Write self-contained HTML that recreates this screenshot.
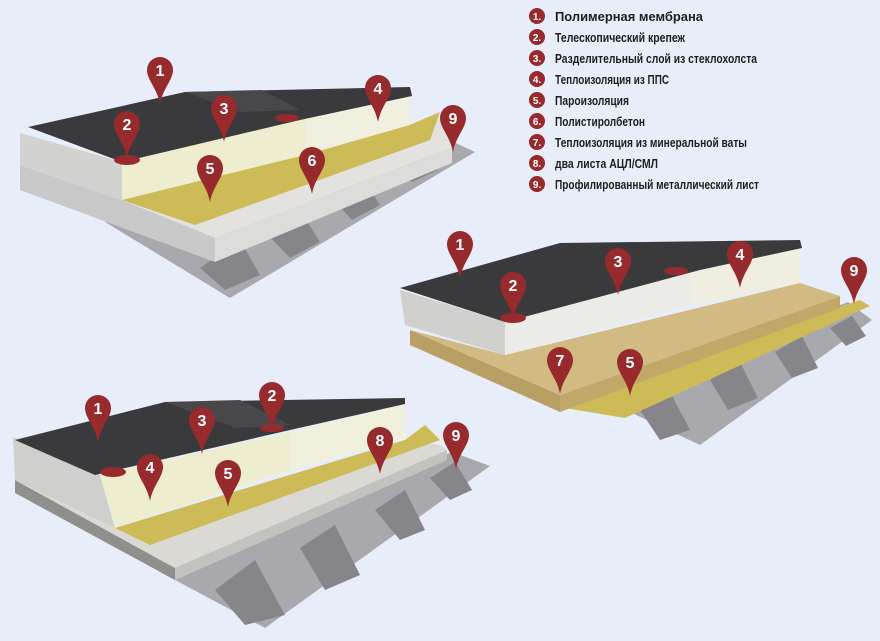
<!DOCTYPE html>
<html><head><meta charset="utf-8"><style>
html,body{margin:0;padding:0;background:#e8eef9;}
svg{display:block}
.lg{font-family:"Liberation Sans",sans-serif;font-weight:bold;font-size:13px;fill:#1e1e1e}
.pn{font-family:"Liberation Sans",sans-serif;font-weight:bold;font-size:16px;fill:#fff;text-anchor:middle}
.ln{font-family:"Liberation Sans",sans-serif;font-weight:bold;font-size:10px;fill:#fff;text-anchor:middle}
</style></head><body>
<svg width="880" height="641" viewBox="0 0 880 641" xmlns="http://www.w3.org/2000/svg">
<defs>
<path id="pin" d="M-13,0 A13,13 0 1 1 13,0 C13,10 3,18 0,34 C-3,18 -13,10 -13,0Z" fill="#962a2c"/>
</defs>
<rect width="880" height="641" fill="#e8eef9"/>

<!-- legend -->
<g>
<g fill="#962a2c">
<circle cx="537" cy="16" r="8"/><circle cx="537" cy="37" r="8"/><circle cx="537" cy="58" r="8"/>
<circle cx="537" cy="79" r="8"/><circle cx="537" cy="100" r="8"/><circle cx="537" cy="121" r="8"/>
<circle cx="537" cy="142" r="8"/><circle cx="537" cy="163" r="8"/><circle cx="537" cy="184" r="8"/></g>
<text class="ln" x="537" y="20">1.</text><text class="ln" x="537" y="41">2.</text><text class="ln" x="537" y="62">3.</text>
<text class="ln" x="537" y="83">4.</text><text class="ln" x="537" y="104">5.</text><text class="ln" x="537" y="125">6.</text>
<text class="ln" x="537" y="146">7.</text><text class="ln" x="537" y="167">8.</text><text class="ln" x="537" y="188">9.</text>
<text class="lg" x="555" y="21" textLength="148" lengthAdjust="spacingAndGlyphs">Полимерная мембрана</text>
<text class="lg" x="555" y="42" textLength="130" lengthAdjust="spacingAndGlyphs">Телескопический крепеж</text>
<text class="lg" x="555" y="63" textLength="202" lengthAdjust="spacingAndGlyphs">Разделительный слой из стеклохолста</text>
<text class="lg" x="555" y="84" textLength="114" lengthAdjust="spacingAndGlyphs">Теплоизоляция из ППС</text>
<text class="lg" x="555" y="105" textLength="74" lengthAdjust="spacingAndGlyphs">Пароизоляция</text>
<text class="lg" x="555" y="126" textLength="90" lengthAdjust="spacingAndGlyphs">Полистиролбетон</text>
<text class="lg" x="555" y="147" textLength="192" lengthAdjust="spacingAndGlyphs">Теплоизоляция из минеральной ваты</text>
<text class="lg" x="555" y="168" textLength="103" lengthAdjust="spacingAndGlyphs">два листа АЦЛ/СМЛ</text>
<text class="lg" x="555" y="189" textLength="204" lengthAdjust="spacingAndGlyphs">Профилированный металлический лист</text>
</g>

<!-- DIAGRAM 1 -->
<g>
<polygon points="105,222 230,298 475,152 445,138" fill="#a9a9ad"/>
<g fill="#85858a">
<polygon points="200,268 240,240 260,275 225,290"/><polygon points="265,232 300,210 320,242 290,258"/>
<polygon points="330,196 362,177 380,205 352,220"/><polygon points="392,160 420,145 438,170 412,182"/>
</g>
<polygon points="20,165 122,200 215,238 215,262 20,190" fill="#c9c9c9"/>
<polygon points="215,238 452,148 452,163 215,262" fill="#dcdcda"/>
<polygon points="122,200 412,124 445,118 452,148 215,238" fill="#e4e2df"/>
<polygon points="122,200 412,124 440,112 430,140 195,225" fill="#cdbb58"/>
<polygon points="20,133 122,162 122,200 20,165" fill="#d2d2d0"/>
<polygon points="122,162 305,118 305,155 122,200" fill="#efedcf"/>
<polygon points="305,118 410,94 410,125 305,155" fill="#f1f0e0"/>
<polygon points="28,127 185,92 410,87 412,96 300,120 122,162" fill="#3a3a3c"/>
<polygon points="185,92 262,90 300,110 240,112" fill="#48484a"/>
<ellipse cx="127" cy="160" rx="13" ry="5" fill="#962a2c"/><ellipse cx="287" cy="118" rx="12" ry="4" fill="#962a2c"/>
</g>

<!-- DIAGRAM 2 -->
<g>
<polygon points="600,398 700,445 872,320 848,302" fill="#a9a9ad"/>
<g fill="#85858a">
<polygon points="640,410 670,392 690,430 660,440"/><polygon points="710,380 740,362 758,398 728,410"/>
<polygon points="775,352 802,336 818,368 792,378"/><polygon points="830,328 852,316 866,336 846,346"/>
</g>
<polygon points="565,408 845,305 860,300 870,306 625,418" fill="#cdbb58"/>
<polygon points="410,330 560,395 560,412 410,345" fill="#b8a064"/>
<polygon points="560,395 840,296 840,308 560,412" fill="#c2a868"/>
<polygon points="505,355 800,283 840,296 560,395 410,330" fill="#d2bb82"/>
<polygon points="400,290 505,322 505,355 405,325" fill="#d0d0ce"/>
<polygon points="505,322 690,272 690,305 505,355" fill="#ebebe8"/>
<polygon points="690,272 800,248 800,283 690,305" fill="#f0eee0"/>
<polygon points="400,288 560,243 800,240 802,248 700,270 505,322" fill="#3a3a3c"/>
<ellipse cx="513" cy="318" rx="13" ry="5" fill="#962a2c"/><ellipse cx="676" cy="271" rx="12" ry="4" fill="#962a2c"/>
</g>

<!-- DIAGRAM 3 -->
<g>
<polygon points="160,572 265,628 490,466 452,452" fill="#a9a9ad"/>
<g fill="#85858a">
<polygon points="215,590 255,560 285,615 245,625"/><polygon points="300,548 335,525 360,575 325,590"/>
<polygon points="375,510 405,490 425,530 400,540"/><polygon points="430,478 455,462 472,490 450,500"/>
</g>
<polygon points="15,480 175,568 175,580 15,493" fill="#8f8f8c"/>
<polygon points="175,568 447,450 447,460 175,580" fill="#c2c2be"/>
<polygon points="115,528 405,440 440,445 447,450 175,568 15,480" fill="#dad9d3"/>
<polygon points="115,528 405,440 425,425 440,440 150,545" fill="#cdbb58"/>
<polygon points="13,437 100,475 115,528 15,480" fill="#cfcfcd"/>
<polygon points="100,475 290,432 290,470 115,528" fill="#efedcf"/>
<polygon points="290,432 405,404 405,438 290,470" fill="#f1f0dc"/>
<polygon points="15,440 165,402 405,398 405,404 290,430 95,475" fill="#3a3a3c"/>
<polygon points="165,402 240,400 290,425 235,428" fill="#48484a"/>
<ellipse cx="113" cy="472" rx="13" ry="5" fill="#962a2c"/><ellipse cx="272" cy="428" rx="12" ry="4" fill="#962a2c"/>
</g>

<!-- pins -->
<g>
<use href="#pin" x="160" y="70"/><text class="pn" x="160" y="76">1</text>
<use href="#pin" x="127" y="124"/><text class="pn" x="127" y="130">2</text>
<use href="#pin" x="224" y="108"/><text class="pn" x="224" y="114">3</text>
<use href="#pin" x="378" y="88"/><text class="pn" x="378" y="94">4</text>
<use href="#pin" x="210" y="168"/><text class="pn" x="210" y="174">5</text>
<use href="#pin" x="312" y="160"/><text class="pn" x="312" y="166">6</text>
<use href="#pin" x="453" y="118"/><text class="pn" x="453" y="124">9</text>

<use href="#pin" x="460" y="244"/><text class="pn" x="460" y="250">1</text>
<use href="#pin" x="513" y="285"/><text class="pn" x="513" y="291">2</text>
<use href="#pin" x="618" y="261"/><text class="pn" x="618" y="267">3</text>
<use href="#pin" x="740" y="254"/><text class="pn" x="740" y="260">4</text>
<use href="#pin" x="854" y="270"/><text class="pn" x="854" y="276">9</text>
<use href="#pin" x="560" y="360"/><text class="pn" x="560" y="366">7</text>
<use href="#pin" x="630" y="362"/><text class="pn" x="630" y="368">5</text>

<use href="#pin" x="98" y="408"/><text class="pn" x="98" y="414">1</text>
<use href="#pin" x="272" y="395"/><text class="pn" x="272" y="401">2</text>
<use href="#pin" x="202" y="420"/><text class="pn" x="202" y="426">3</text>
<use href="#pin" x="150" y="467"/><text class="pn" x="150" y="473">4</text>
<use href="#pin" x="228" y="473"/><text class="pn" x="228" y="479">5</text>
<use href="#pin" x="380" y="440"/><text class="pn" x="380" y="446">8</text>
<use href="#pin" x="456" y="435"/><text class="pn" x="456" y="441">9</text>
</g>
</svg>
</body></html>
